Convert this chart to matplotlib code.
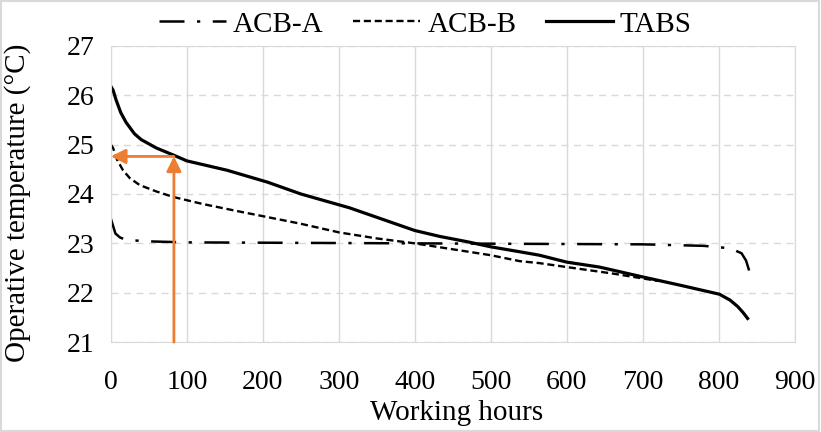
import numpy as np
import matplotlib
matplotlib.use('Agg')
import matplotlib.pyplot as plt
from matplotlib.patches import Rectangle

#################### Data
tabs_h = [0, 3, 7, 13, 20, 31, 40, 60, 82, 100, 153, 206, 250, 314, 400, 433, 470,
          500, 538, 564, 600, 643, 700, 750, 801, 815, 825, 832, 838]
tabs_t = [26.18, 26.1, 25.9, 25.65, 25.45, 25.22, 25.1, 24.93, 24.79, 24.67, 24.48,
          24.24, 24.0, 23.72, 23.26, 23.14, 23.03, 22.93, 22.83, 22.76, 22.62, 22.52,
          22.32, 22.15, 21.97, 21.85, 21.72, 21.6, 21.48]

acba_h = [0, 3, 6, 12, 20, 50, 100, 400, 700, 780, 815, 830, 836, 840]
acba_t = [23.5, 23.35, 23.2, 23.12, 23.07, 23.04, 23.02, 23.0, 22.98, 22.95, 22.9,
          22.8, 22.65, 22.45]

acbb_h = [0, 3, 8, 16, 25, 38, 60, 82, 120, 161, 249, 301, 350, 400, 450, 500, 538,
          564, 600, 660, 700, 720]
acbb_t = [25.0, 24.93, 24.7, 24.48, 24.32, 24.18, 24.05, 23.94, 23.8, 23.67, 23.4,
          23.22, 23.1, 23.0, 22.88, 22.76, 22.64, 22.6, 22.52, 22.39, 22.29, 22.24]

arrow_h = 83
arrow_t = 24.76

x_ticks = np.arange(0, 901, 100)
y_ticks = np.arange(21, 28, 1)

#################### Figure
plt.rcParams['font.family'] = 'Liberation Serif'
fig = plt.figure(figsize=(8.21, 4.32), dpi=100)
ax = fig.add_axes([0.135, 0.208, 0.833, 0.686])

ax.plot(acba_h, acba_t, color='black', lw=1.8, linestyle=(0, (10, 5, 1.3, 5)),
        label='ACB-A')
ax.plot(acbb_h, acbb_t, color='black', lw=1.7, linestyle=(0, (3, 1.6)), label='ACB-B')
ax.plot(tabs_h, tabs_t, color='black', lw=2.3, label='TABS')

orange = '#ED7D31'
ax.annotate('', xy=(arrow_h, arrow_t), xytext=(arrow_h, 21),
            arrowprops=dict(arrowstyle='-|>', color=orange, lw=2, mutation_scale=22,
                            shrinkA=0, shrinkB=0))
ax.annotate('', xy=(0, arrow_t), xytext=(arrow_h, arrow_t),
            arrowprops=dict(arrowstyle='-|>', color=orange, lw=2, mutation_scale=22,
                            shrinkA=0, shrinkB=0))

ax.set_xlim(0, 900)
ax.set_ylim(21, 27)
ax.set_xticks(x_ticks)
ax.set_yticks(y_ticks)
ax.tick_params(length=0, labelsize=20)
ax.tick_params(axis='y', pad=12)
ax.tick_params(axis='x', pad=20)
ax.xaxis.grid(True, color='#d9d9d9', lw=1)
ax.yaxis.grid(True, color='#d9d9d9', lw=1, linestyle=(0, (5, 4)))
ax.set_axisbelow(True)
for s in ax.spines.values():
    s.set_color('#d9d9d9')

ax.set_xlabel('Working hours', fontsize=21)
ax.set_ylabel('Operative temperature (\u00b0C)', fontsize=21)
ax.xaxis.set_label_coords(0.505, -0.195)
ax.yaxis.set_label_coords(-0.117, 0.47)

leg = fig.legend(loc='upper center', bbox_to_anchor=(0.518, 1.035), ncol=3, frameon=False,
                 fontsize=21, handlelength=2.3, columnspacing=1.0, handletextpad=0.25)

fig.patches.append(Rectangle((0.001, 0.002), 0.997, 0.995, transform=fig.transFigure,
                             fill=False, edgecolor='#d9d9d9', lw=1.5))

fig.savefig('out.png', dpi=100)
